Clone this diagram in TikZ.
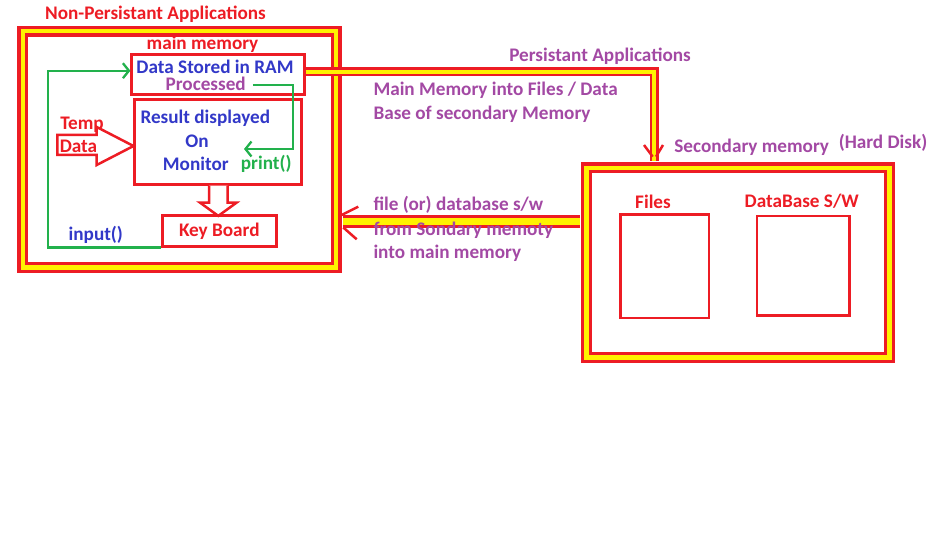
\documentclass[tikz,border=0pt]{standalone}
\usepackage{fontspec}
\setmainfont{Carlito}
\usetikzlibrary{positioning, arrows.meta, calc}
\definecolor{pred}{RGB}{237,28,36}
\definecolor{pyellow}{RGB}{255,242,0}
\definecolor{pblue}{RGB}{50,56,200}
\definecolor{ppurple}{RGB}{163,73,164}
\definecolor{pgreen}{RGB}{34,177,76}

\begin{document}
\begin{tikzpicture}[x=1pt, y=-1pt,
  txt/.style={inner sep=0pt, text height=15pt, text depth=3.5pt, font=\fontsize{19.2}{22}\selectfont\bfseries},
  box/.style={draw=pred, line width=2.6pt, inner sep=0pt, fill=white},
  frame/.style={draw=pred, double=pyellow, line width=3.2pt, double distance=4.4pt, inner sep=0pt},
  band/.style={draw=pred, double=pyellow, line width=2.2pt, double distance=4.6pt},
  wideband/.style={draw=pred, double=pyellow, line width=2.3pt, double distance=7.6pt},
  gline/.style={draw=pgreen, line width=2.3pt, -{Straight Barb[length=6pt, width=15pt]}},
  hollow/.style={draw=pred, line width=2.5pt, fill=white, line join=miter},
  chev/.style={draw=pred, line width=2.5pt}]
  \useasboundingbox (0,0) rectangle (935,540);
  \fill[white] (0,0) rectangle (935,540);

  % non-persistant side
  \node[frame, minimum width=313.3pt, minimum height=236.2pt] (nonpersist) at (179.5,149.4) {};
  \node[txt, text=pred] (title) at (155.5,14) {Non-Persistant Applications};
  \node[box, minimum width=172.6pt, minimum height=40pt] (ram) at (218,74.7) {};
  \node[box, minimum width=166.7pt, minimum height=85pt, below=2pt of ram] (result) {};
  \node[box, txt, text=pred, minimum width=114.1pt, minimum height=30.9pt] (keyboard) at (219.3,230.8) {Key Board};
  \node[txt, text=pred] (mainmem) at (202.5,43.3) {main memory};
  \node[txt, text=pblue] (stored) at (215,67.7) {Data Stored in RAM};
  \node[txt, text=ppurple] (processed) at (205.7,85) {Processed};
  \node[txt, text=pblue] (resdisp) at (205.3,117.3) {Result displayed};
  \node[txt, text=pblue] (on) at (197,141.7) {On};
  \node[txt, text=pblue] (monitor) at (195.8,164.3) {Monitor};
  \node[txt, text=pgreen] (print) at (266.2,164) {print()};
  \node[txt, text=pblue] (input) at (95.8,234.3) {input()};

  % print() and input() loops
  \coordinate (printtip) at (244,149);
  \coordinate (printturn) at (292.7,0);
  \coordinate (inturn) at (47.7,0);
  \coordinate (ramin) at ([yshift=4pt]ram.west);
  \draw[gline] ([xshift=7pt]processed.east) -| (printtip -| printturn) -- (printtip);
  \draw[gline] (keyboard.south west) -| (inturn |- ramin) -- (ramin);

  % hollow arrows
  \coordinate (tdtip) at (133.5,146);
  \draw[hollow] (tdtip) -- ++(-36.8,-19) -- ++(0,8) -- ++(-39.4,0) -- ++(0,20) -- ++(39.4,0) -- ++(0,10) -- cycle;
  \draw[hollow] (result.south) ++(-9,0) -- ++(0,17) -- ++(-9,0) -- ++(18.3,13.3) -- ++(18.3,-13.3) -- ++(-9,0) -- ++(0,-17);
  \node[txt, text=pred] (temp) at (82,123.3) {Temp};
  \node[txt, text=pred] (data) at (78.5,146.7) {Data};

  % secondary side
  \node[frame, fill=white, minimum width=303.2pt, minimum height=189.5pt] (secondary) at (737.9,262.6) {};
  \node[txt, text=ppurple] (secmem) at (751.7,146.7) {Secondary memory};
  \node[txt, text=ppurple] (hdd) at (883,142.7) {(Hard Disk)};
  \node[box, minimum width=88.5pt, minimum height=103.5pt] (files) at (664.8,266.3) {};
  \node[box, minimum width=92.5pt, minimum height=99.5pt] (dbsw) at (803.3,265.8) {};
  \node[txt, text=pred] (fileslbl) at (653,202.7) {Files};
  \node[txt, text=pred] (dbswlbl) at (801.7,202) {DataBase S/W};

  % bands between the memories
  \coordinate (droptip) at (654,161);
  \coordinate (ret) at (0,221.5);
  \draw[band] ([yshift=2.7pt]ram.east) -| (droptip);
  \draw[chev] (droptip) ++(-10,-16) -- ++(8.7,11.7) (droptip) ++(2,-4.3) -- ++(7,-11.7);
  \draw[wideband] ($(secondary.west |- ret)+(-5,0)$) -- ($(nonpersist.east |- ret)+(5.5,0)$);
  \draw[chev] (358.3,206.7) -- (341.7,215) (343.3,227.5) -- (356.7,239.3);
  \node[txt, text=ppurple] (persist) at (600,56) {Persistant Applications};
  \node[txt, text=ppurple, anchor=west] (mm1) at (373.3,90) {Main Memory into Files / Data};
  \node[txt, text=ppurple, anchor=west] (mm2) at (373.3,113.3) {Base of secondary Memory};
  \node[txt, text=ppurple, anchor=west] (fd1) at (373.3,205) {file (or) database s/w};
  \node[txt, text=ppurple, anchor=west] (fd2) at (373.3,230) {from Sondary memoty};
  \node[txt, text=ppurple, anchor=west] (fd3) at (373.3,252.7) {into main memory};
\end{tikzpicture}
\end{document}
